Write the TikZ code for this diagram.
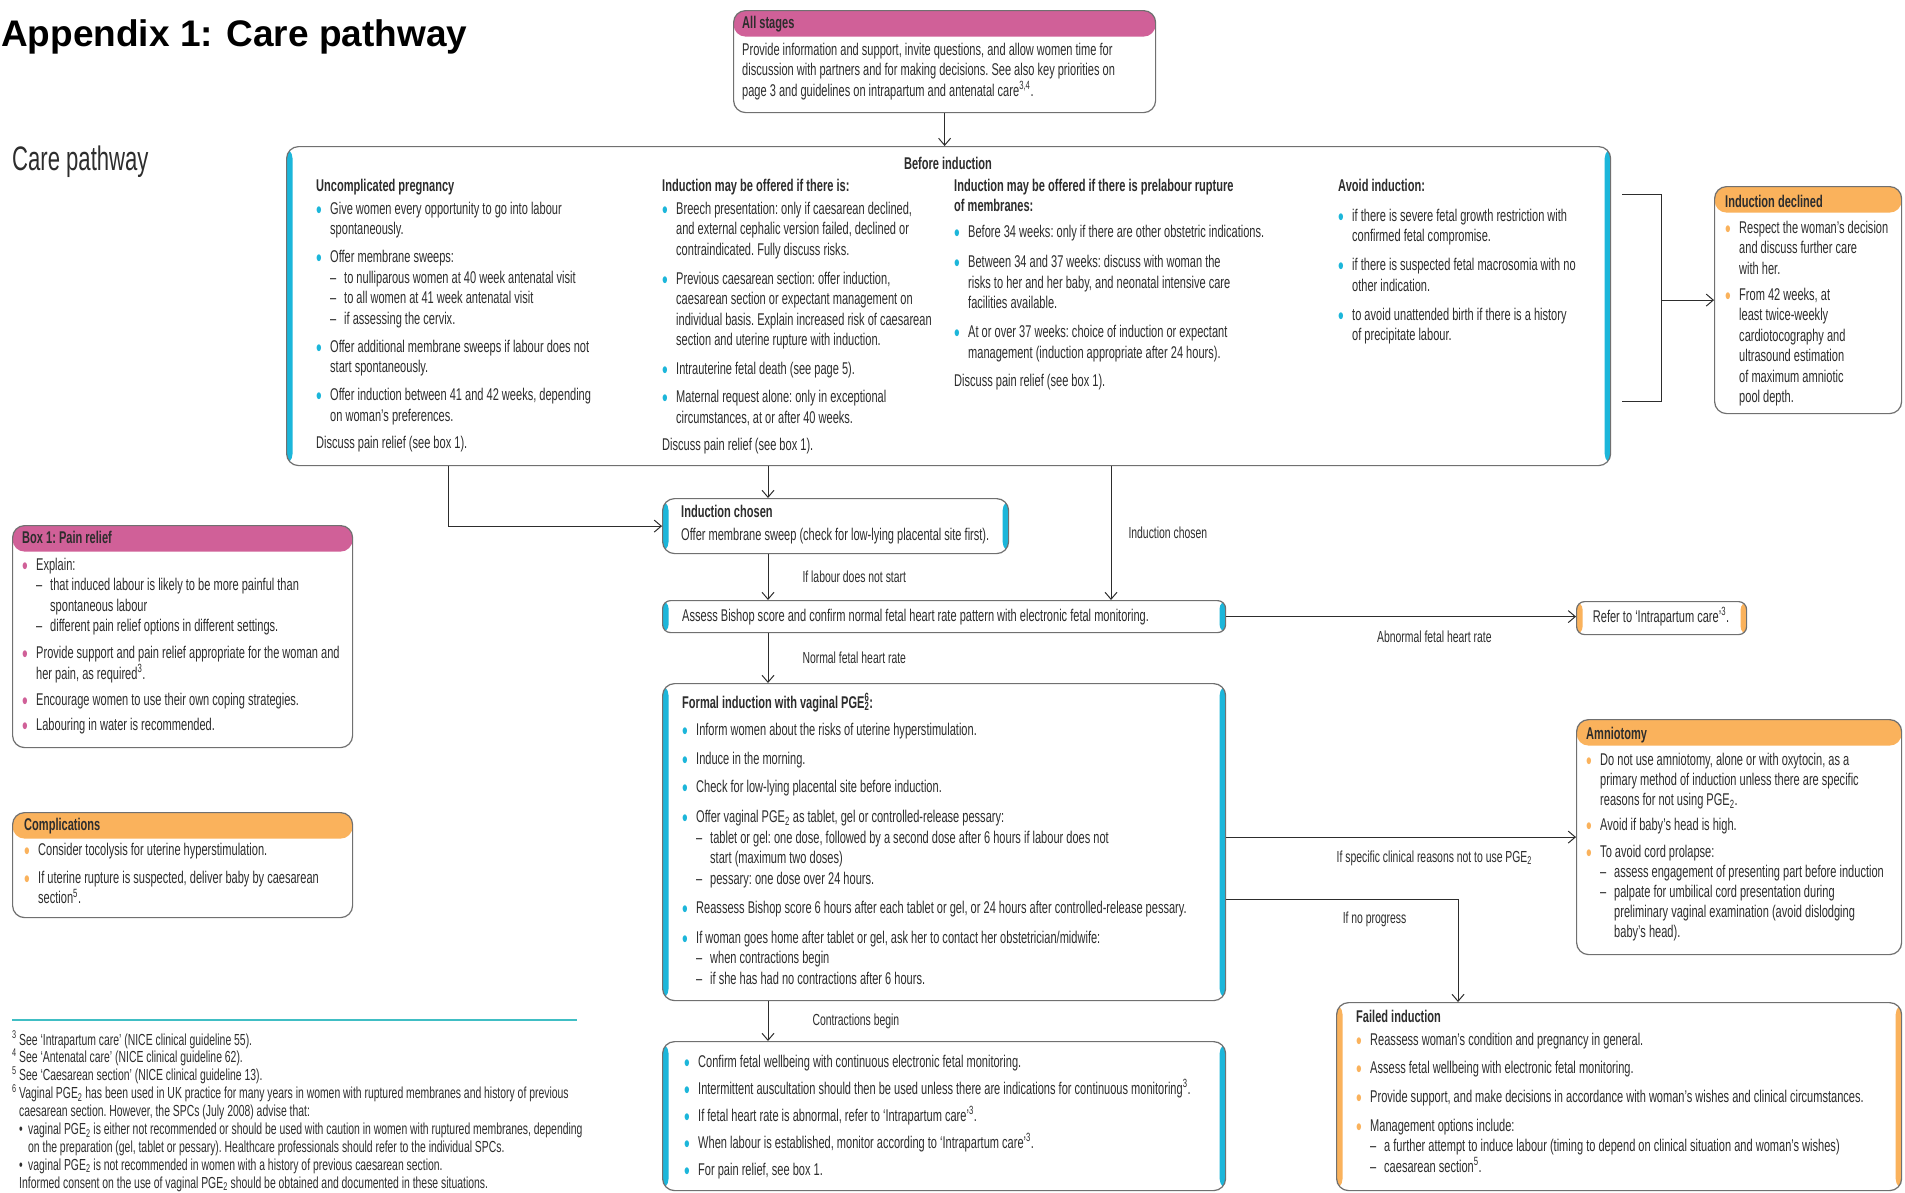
\documentclass[tikz,border=0pt]{standalone}
\usepackage{fontspec}
\setmainfont{Liberation Sans}
\newfontfamily\cond[FakeStretch=0.65, Ligatures=TeX]{Liberation Sans}
\usetikzlibrary{arrows.meta, positioning}

\definecolor{hdrpink}{RGB}{208,96,152}
\definecolor{hdrorange}{RGB}{250,178,92}
\definecolor{sidecyan}{RGB}{28,182,218}
\definecolor{boxgray}{RGB}{112,112,112}
\definecolor{inkgray}{RGB}{45,45,45}
\definecolor{rulecyan}{RGB}{64,190,196}
\colorlet{bulc}{sidecyan}
\hyphenpenalty=10000
\exhyphenpenalty=10000

\newlength{\bind}\setlength{\bind}{14pt}
\newlength{\dashw}\setlength{\dashw}{14pt}
\newcommand{\bodyfont}{\cond\fontsize{17}{20.5}\selectfont\frenchspacing}
\newcommand{\notefont}{\cond\fontsize{16}{17.9}\selectfont\frenchspacing}
% bullet, sub-dash and plain paragraphs inside the boxes
\newcommand{\bul}{\hangindent=\bind\hangafter=1\noindent\hbox to \bind{\textcolor{bulc}{\raisebox{-4pt}{\fontsize{25}{25}\selectfont\textbullet}}\hfil}}
\newcommand{\bitem}[1][7.5pt]{\par\vspace{#1}\bul}
\newcommand{\ditem}{\par\hangindent=\dimexpr\bind+\dashw\relax\hangafter=1\noindent\hbox to \bind{}\hbox to \dashw{--\hfil}}
\newcommand{\bpar}[1][7.5pt]{\par\vspace{#1}\noindent}

\begin{document}
\begin{tikzpicture}[
    x=1pt, y=-1pt,
    box/.style={draw=boxgray, line width=1.2pt, rounded corners=12pt, fill=white, anchor=north west, inner sep=0pt},
    sidebox/.style={box, path picture={
        \fill[#1] ([xshift=-2pt]path picture bounding box.south west) rectangle ([xshift=6pt]path picture bounding box.north west);
        \fill[#1] ([xshift=2pt]path picture bounding box.south east) rectangle ([xshift=-6pt]path picture bounding box.north east);}},
    headbox/.style={box, path picture={
        \fill[#1] (path picture bounding box.north west) rectangle ([yshift=-26pt]path picture bounding box.north east);}},
    txt/.style={anchor=base west, inner sep=0pt, align=left, font=\bodyfont, text=inkgray,
        execute at begin node={\colorlet{bulc}{#1}\spaceskip=0pt\xspaceskip=0pt}},
    txt/.default=sidecyan,
    lbl/.style={font=\notefont, text=inkgray, inner sep=0pt},
    arrow/.style={-{Straight Barb[length=7pt, width=12pt]}, line width=1pt, draw=inkgray},
    link/.style={line width=1pt, draw=inkgray}
]
\useasboundingbox (0,0) rectangle (1905,1192);

% titles
\node[anchor=base west, inner sep=0pt, font=\fontsize{37}{40}\selectfont\bfseries] (title) at (1,46) {Appendix 1: Care pathway};
\node[anchor=base west, inner sep=0pt, font=\cond\fontsize{34}{38}\selectfont, text=inkgray] (subtitle) at (12,170) {Care pathway};

% all stages
\node[headbox=hdrpink, minimum width=422pt, minimum height=102pt] (allstages) at (733,10) {};
\node[txt, text width=410pt] (allstagestxt) at (742,28) {\textbf{All stages}
\bpar[6.5pt]Provide information and support, invite questions, and allow women time for\newline discussion with partners and for making decisions. See also key priorities on\newline page 3 and guidelines on intrapartum and antenatal care\textsuperscript{3,4}.\par};

% before induction
\node[sidebox=sidecyan, minimum width=1324pt, minimum height=319pt] (before) at (286,146) {};
\node[txt, anchor=base] (beforetitle) at (948,169) {\textbf{Before induction}};
\node[txt, text width=320pt] (uncomp) at (316,191) {\textbf{Uncomplicated pregnancy}
\bitem[2.5pt]Give women every opportunity to go into labour\newline spontaneously.
\bitem Offer membrane sweeps:
\ditem to nulliparous women at 40 week antenatal visit
\ditem to all women at 41 week antenatal visit
\ditem if assessing the cervix.
\bitem Offer additional membrane sweeps if labour does not\newline start spontaneously.
\bitem Offer induction between 41 and 42 weeks, depending\newline on woman’s preferences.
\bpar[6.5pt]Discuss pain relief (see box 1).\par};
\node[txt, text width=320pt] (offered) at (662,191) {\textbf{Induction may be offered if there is:}
\bitem[2.5pt]Breech presentation: only if caesarean declined,\newline and external cephalic version failed, declined or\newline contraindicated. Fully discuss risks.
\bitem[8.5pt]Previous caesarean section: offer induction,\newline caesarean section or expectant management on\newline individual basis. Explain increased risk of caesarean\newline section and uterine rupture with induction.
\bitem[8.5pt]Intrauterine fetal death (see page 5).
\bitem Maternal request alone: only in exceptional\newline circumstances, at or after 40 weeks.
\bpar[6.5pt]Discuss pain relief (see box 1).\par};
\node[txt, text width=330pt] (prelabour) at (954,191) {\textbf{Induction may be offered if there is prelabour rupture\newline of membranes:}
\bitem[5pt]Before 34 weeks: only if there are other obstetric indications.
\bitem[10pt]Between 34 and 37 weeks: discuss with woman the\newline risks to her and her baby, and neonatal intensive care\newline facilities available.
\bitem[8.5pt]At or over 37 weeks: choice of induction or expectant\newline management (induction appropriate after 24 hours).
\bpar[8pt]Discuss pain relief (see box 1).\par};
\node[txt, text width=260pt] (avoid) at (1338,191) {\textbf{Avoid induction:}
\bitem[9.5pt]if there is severe fetal growth restriction with\newline confirmed fetal compromise.
\bitem[8.5pt]if there is suspected fetal macrosomia with no\newline other indication.
\bitem[8.5pt]to avoid unattended birth if there is a history\newline of precipitate labour.\par};

% induction declined
\node[headbox=hdrorange, minimum width=187pt, minimum height=227pt] (declined) at (1714,186) {};
\node[txt=hdrorange, text width=175pt] (declinedtxt) at (1725,207) {\textbf{Induction declined}
\bitem[5.5pt]Respect the woman’s decision\newline and discuss further care\newline with her.
\bitem[5.5pt]From 42 weeks, at\newline least twice-weekly\newline cardiotocography and\newline ultrasound estimation\newline of maximum amniotic\newline pool depth.\par};

% box 1 and complications
\node[headbox=hdrpink, minimum width=340pt, minimum height=222pt] (painrelief) at (12,525) {};
\node[txt=hdrpink, text width=330pt] (painrelieftxt) at (22,543) {\textbf{Box 1: Pain relief}
\bitem[6.5pt]Explain:
\ditem that induced labour is likely to be more painful than\newline spontaneous labour
\ditem different pain relief options in different settings.
\bitem[6.5pt]Provide support and pain relief appropriate for the woman and\newline her pain, as required\textsuperscript{3}.
\bitem[5.5pt]Encourage women to use their own coping strategies.
\bitem[5pt]Labouring in water is recommended.\par};
\node[headbox=hdrorange, minimum width=340pt, minimum height=105pt] (complic) at (12,812) {};
\node[txt=hdrorange, text width=330pt] (complictxt) at (24,830) {\textbf{Complications}
\bitem[4.5pt]Consider tocolysis for uterine hyperstimulation.
\bitem[7.5pt]If uterine rupture is suspected, deliver baby by caesarean\newline section\textsuperscript{5}.\par};

% induction pathway
\node[sidebox=sidecyan, minimum width=346pt, minimum height=55pt] (chosen) at (662,498) {};
\node[txt, text width=330pt] (chosentxt) at (681,517) {\textbf{Induction chosen}
\bpar[2.5pt]Offer membrane sweep (check for low-lying placental site first).\par};
\node[sidebox=sidecyan, rounded corners=8pt, minimum width=563pt, minimum height=32pt] (assess) at (662,600) {};
\node[txt, text width=540pt] (assesstxt) at (682,621) {Assess Bishop score and confirm normal fetal heart rate pattern with electronic fetal monitoring.};
\node[sidebox=hdrorange, rounded corners=8pt, minimum width=170pt, minimum height=33pt] (refer) at (1576,601) {};
\node[txt, anchor=base] (refertxt) at (1661,622) {Refer to ‘Intrapartum care’\textsuperscript{3}.};

\node[sidebox=sidecyan, minimum width=563pt, minimum height=317pt] (formal) at (662,683) {};
\node[txt, text width=530pt] (formaltxt) at (682,708) {\textbf{Formal induction with vaginal PGE\rlap{\textsubscript{2}}\textsuperscript{6}:}
\bitem[6.5pt]Inform women about the risks of uterine hyperstimulation.
\bitem[8.5pt]Induce in the morning.
\bitem[8pt]Check for low-lying placental site before induction.
\bitem[9.5pt]Offer vaginal PGE\textsubscript{2} as tablet, gel or controlled-release pessary:
\ditem tablet or gel: one dose, followed by a second dose after 6 hours if labour does not\newline start (maximum two doses)
\ditem pessary: one dose over 24 hours.
\bitem[9pt]Reassess Bishop score 6 hours after each tablet or gel, or 24 hours after controlled-release pessary.
\bitem[9pt]If woman goes home after tablet or gel, ask her to contact her obstetrician/midwife:
\ditem when contractions begin
\ditem if she has had no contractions after 6 hours.\par};

\node[headbox=hdrorange, minimum width=325pt, minimum height=235pt] (amnio) at (1576,719) {};
\node[txt=hdrorange, text width=310pt] (amniotxt) at (1586,739) {\baselineskip=20pt\textbf{Amniotomy}
\bitem[6.5pt]Do not use amniotomy, alone or with oxytocin, as a\newline primary method of induction unless there are specific\newline reasons for not using PGE\textsubscript{2}.
\bitem[4.5pt]Avoid if baby’s head is high.
\bitem[7.5pt]To avoid cord prolapse:
\ditem assess engagement of presenting part before induction
\ditem palpate for umbilical cord presentation during\newline preliminary vaginal examination (avoid dislodging\newline baby’s head).\par};

\node[sidebox=hdrorange, minimum width=565pt, minimum height=188pt] (failed) at (1336,1002) {};
\node[txt=hdrorange, text width=540pt] (failedtxt) at (1356,1022) {\textbf{Failed induction}
\bitem[2.5pt]Reassess woman’s condition and pregnancy in general.
\bitem[7.5pt]Assess fetal wellbeing with electronic fetal monitoring.
\bitem[8.5pt]Provide support, and make decisions in accordance with woman’s wishes and clinical circumstances.
\bitem[8.5pt]Management options include:
\ditem a further attempt to induce labour (timing to depend on clinical situation and woman’s wishes)
\ditem caesarean section\textsuperscript{5}.\par};

\node[sidebox=sidecyan, minimum width=563pt, minimum height=149pt] (labour) at (662,1041) {};
\node[txt, text width=535pt] (labourtxt) at (684,1067) {\bul Confirm fetal wellbeing with continuous electronic fetal monitoring.
\bitem[6.5pt]Intermittent auscultation should then be used unless there are indications for continuous monitoring\textsuperscript{3}.
\bitem[6.5pt]If fetal heart rate is abnormal, refer to ‘Intrapartum care’\textsuperscript{3}.
\bitem[6.5pt]When labour is established, monitor according to ‘Intrapartum care’\textsuperscript{3}.
\bitem[6.5pt]For pain relief, see box 1.\par};

% footnotes
\draw[rulecyan, line width=2pt] (12,1020) -- (577,1020);
\node[txt, text width=620pt, font=\notefont] (notes) at (12,1045) {%
\makebox[7pt][l]{\textsuperscript{3}}See ‘Intrapartum care’ (NICE clinical guideline 55).\\
\makebox[7pt][l]{\textsuperscript{4}}See ‘Antenatal care’ (NICE clinical guideline 62).\\
\makebox[7pt][l]{\textsuperscript{5}}See ‘Caesarean section’ (NICE clinical guideline 13).\\
\makebox[7pt][l]{\textsuperscript{6}}Vaginal PGE\textsubscript{2} has been used in UK practice for many years in women with ruptured membranes and history of previous\\
\hspace*{7pt}caesarean section. However, the SPCs (July 2008) advise that:\\
\hspace*{7pt}\makebox[9pt][l]{\textbullet}vaginal PGE\textsubscript{2} is either not recommended or should be used with caution in women with ruptured membranes, depending\\
\hspace*{16pt}on the preparation (gel, tablet or pessary). Healthcare professionals should refer to the individual SPCs.\\
\hspace*{7pt}\makebox[9pt][l]{\textbullet}vaginal PGE\textsubscript{2} is not recommended in women with a history of previous caesarean section.\\
\hspace*{7pt}Informed consent on the use of vaginal PGE\textsubscript{2} should be obtained and documented in these situations.};

% connectors
\coordinate (spine) at (768,0);
\coordinate (leftdrop) at (448,0);
\coordinate (rightdrop) at (1111,0);
\coordinate (noprog) at (1458,899);
\coordinate (brtop) at (1622,194);
\coordinate (brbot) at (1622,401);
\coordinate (brx) at (1661,0);

\draw[arrow] (allstages.south) -- (allstages.south |- before.north);
\draw[arrow] (before.south -| leftdrop) |- (chosen.west);
\draw[arrow] (before.south -| spine) -- (chosen.north -| spine);
\draw[arrow] (before.south -| rightdrop) -- node[lbl, right=17pt] {Induction chosen} (assess.north -| rightdrop);
\draw[arrow] (chosen.south -| spine) -- node[lbl, right=34pt] {If labour does not start} (assess.north -| spine);
\draw[arrow] (assess.south -| spine) -- node[lbl, right=34pt] {Normal fetal heart rate} (formal.north -| spine);
\draw[arrow] (formal.south -| spine) -- node[lbl, right=44pt] {Contractions begin} (labour.north -| spine);
\draw[arrow] (assess.east) -- node[lbl, pos=0.595, below=14pt] {Abnormal fetal heart rate} (assess.east -| refer.west);
\draw[arrow] (formal.east |- amnio.west) -- node[lbl, pos=0.595, below=13pt] {If specific clinical reasons not to use PGE\textsubscript{2}} (amnio.west);
\draw[arrow] (formal.east |- noprog) -| node[lbl, pos=0.32, below=12pt] {If no progress} (failed.north -| noprog);
\draw[link] (brtop) -| (brx |- brbot) -- (brbot);
\draw[arrow] (brx |- declined.west) -- (declined.west);
\end{tikzpicture}
\end{document}
